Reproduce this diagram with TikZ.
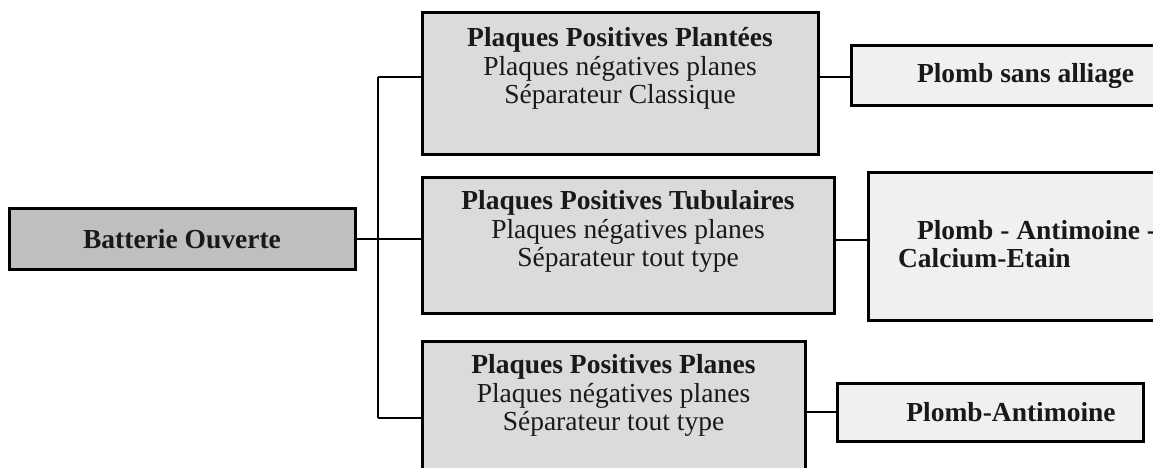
\documentclass[tikz,border=0pt]{standalone}
\usepackage{fontspec}
\setmainfont{Liberation Serif}
\usepackage{tikz}
\definecolor{Gris}{gray}{0.75}
\definecolor{GrisClair}{gray}{0.86}
\definecolor{GrisPale}{gray}{0.94}
\usetikzlibrary{positioning}

\begin{document}
\begin{tikzpicture}[x=1pt,y=-1pt,
  boite/.style={draw=black,line width=3pt,inner sep=0pt,text=black!90,font=\fontsize{27.5}{28.5}\selectfont\bfseries},
  texte/.style={align=center,text=black!90,font=\fontsize{27.5}{28.5}\selectfont},
  lien/.style={line width=2.2pt}]
\useasboundingbox (0,0) rectangle (1153,468);
\clip (0,0) rectangle (1153,468);

%%left box
\node[boite,fill=Gris,minimum width=346,minimum height=61] (batterie) at (182,239) {Batterie Ouverte};

%%middle boxes
\node[boite,fill=GrisClair,minimum width=396,minimum height=141] (plantees) at (620,83.5) {};
\node[texte] (plantees-t) at ([yshift=-57]plantees.north) {\textbf{Plaques Positives Plantées}\\Plaques négatives planes\\Séparateur Classique};
\node[boite,fill=GrisClair,minimum width=412,minimum height=136] (tubulaires) at (628,245) {};
\node[texte] (tubulaires-t) at ([yshift=-56]tubulaires.north) {\textbf{Plaques Positives Tubulaires}\\Plaques négatives planes\\Séparateur tout type};
\node[boite,fill=GrisClair,minimum width=383,minimum height=160] (planes) at (613.5,421) {};
\node[texte] (planes-t) at ([yshift=-56]planes.north) {\textbf{Plaques Positives Planes}\\Plaques négatives planes\\Séparateur tout type};

%%right boxes
\node[boite,fill=GrisPale,minimum width=349,minimum height=60] (sansalliage) at (1025.5,76) {Plomb sans alliage};
\node[boite,fill=GrisPale,minimum width=332,minimum height=148] (calcium) at (1034,246) {};
\node[texte,align=left,font=\fontsize{27.5}{28.5}\selectfont\bfseries,anchor=west] (calcium-t) at ([xshift=28,yshift=2]calcium.west) {\hspace{19pt}Plomb - Antimoine -\\Calcium-Etain};
\node[boite,fill=GrisPale,minimum width=306,minimum height=58] (antimoine) at (990,412) {};
\node[texte,font=\fontsize{27.5}{28.5}\selectfont\bfseries] (antimoine-t) at ([xshift=21]antimoine.center) {Plomb-Antimoine};

%%links
\coordinate (bushaut) at (378,77);
\coordinate (busbas) at (378,418);
\draw[lien] (bushaut) -- (busbas);
\draw[lien] (bushaut) -- (bushaut -| plantees.west);
\draw[lien] (batterie.east) -- (batterie.east -| tubulaires.west);
\draw[lien] (busbas) -- (busbas -| planes.west);
\draw[lien] ([yshift=6.5]plantees.east) -- ([yshift=6.5]plantees.east -| sansalliage.west);
\draw[lien] ([yshift=5]tubulaires.east) -- ([yshift=5]tubulaires.east -| calcium.west);
\draw[lien] (planes.east |- antimoine.west) -- (antimoine.west);
\end{tikzpicture}
\end{document}
